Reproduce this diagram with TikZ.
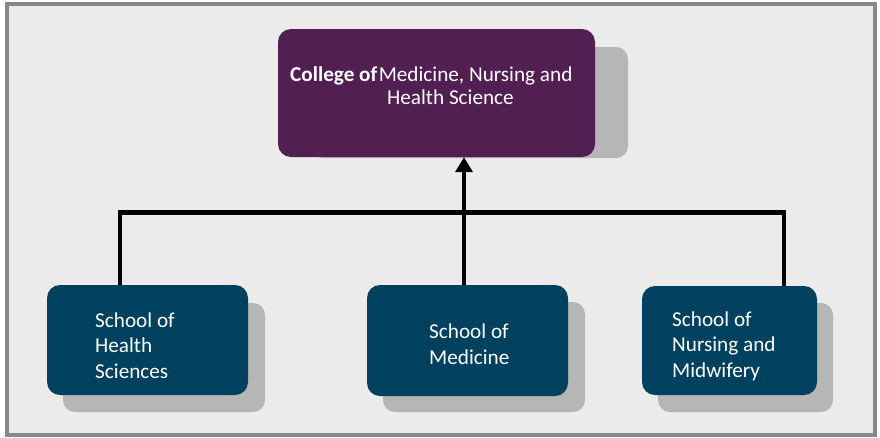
\documentclass[tikz,border=0pt]{standalone}
\usepackage{fontspec}
\setmainfont{Carlito}
\usetikzlibrary{arrows.meta}
\definecolor{bgc}{HTML}{EBEBEB}
\definecolor{framec}{HTML}{888888}
\definecolor{purplec}{HTML}{521F53}
\definecolor{bluec}{HTML}{00415F}
\definecolor{shadowc}{HTML}{B6B6B6}
\tikzset{
  shadowbox/.style={fill=shadowc, rounded corners=12pt},
  topbox/.style={fill=purplec, rounded corners=13pt, inner sep=0pt},
  schoolbox/.style={fill=bluec, rounded corners=13pt, inner sep=0pt},
  txt/.style={text=white, inner sep=0pt, align=left, anchor=base west,
    font=\fontsize{21.2}{25.5}\selectfont},
  toptxt/.style={text=white, inner sep=0pt, anchor=base west,
    font=\fontsize{21.2}{23}\selectfont},
  conn/.style={draw=black, line width=4.5pt, line join=miter},
  arr/.style={conn, -{Triangle[length=15pt,width=17pt]}}
}
\begin{document}
\begin{tikzpicture}[x=1pt,y=-1pt]
\useasboundingbox (0,0) rectangle (880,437);
\fill[bgc] (7,4) rectangle (875,435);
\draw[framec, line width=4pt] (7,4) rectangle (875,434.5);
% shadows
\fill[shadowbox] (311,47) rectangle (628,158);
\fill[shadowbox] (63,303) rectangle (265,412);
\fill[shadowbox] (383,302) rectangle (585,412);
\fill[shadowbox] (658,303) rectangle (833,412);
% boxes
\node[topbox, minimum width=317pt, minimum height=128pt] (topb) at (436.5,93) {};
\node[schoolbox, minimum width=201pt, minimum height=110pt] (left) at (147.5,340) {};
\node[schoolbox, minimum width=201pt, minimum height=111pt] (mid) at (467.5,340.5) {};
\node[schoolbox, minimum width=175pt, minimum height=109pt] (right) at (729.5,340.5) {};
% texts
\node[toptxt] (t1) at (290,81) {\textbf{College of}\hspace{1.5pt}Medicine, Nursing and};
\node[toptxt] (t2) at (387,104) {Health Science};
\node[txt] (lt) at (95,378) {School of\\Health\\Sciences};
\node[txt] (mt) at (429,364) {School of\\Medicine};
\node[txt] (rt) at (672,377) {School of\\Nursing and\\Midwifery};
% connectors
\coordinate (barL) at (120,212.5);
\coordinate (barR) at (784,212.5);
\draw[conn] (left.north -| barL) -- (barL) -- (barR) -- (right.north -| barR);
\draw[arr] ([xshift=-3.5pt]mid.north) -- ([xshift=-3.5pt]mid.north |- topb.south);
\end{tikzpicture}
\end{document}
